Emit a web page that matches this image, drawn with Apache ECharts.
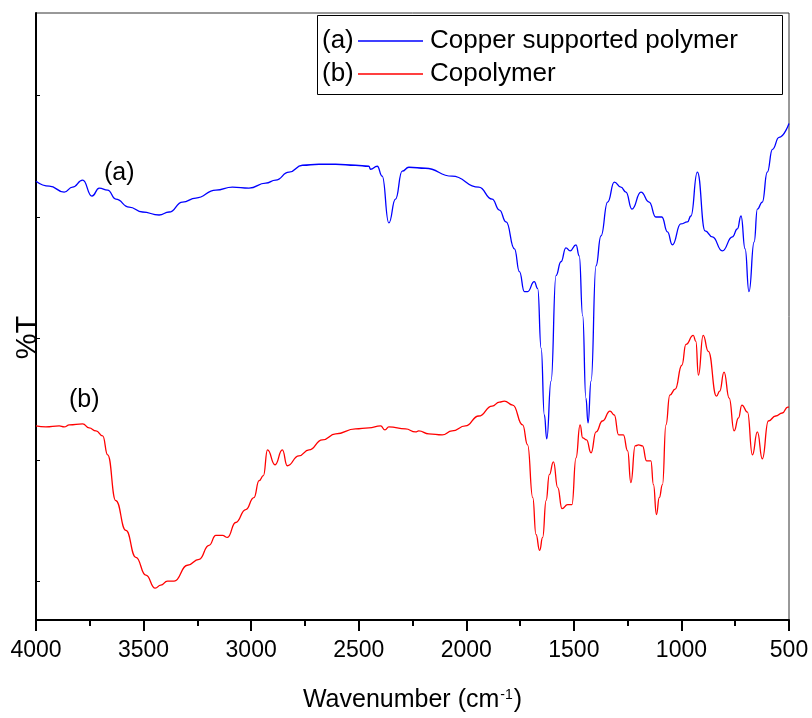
<!DOCTYPE html>
<html>
<head>
<meta charset="utf-8">
<script src="https://cdn.jsdelivr.net/npm/echarts@6/dist/echarts.min.js"></script>
<style>
  html, body { margin: 0; padding: 0; background: #fff; }
  #chart { width: 812px; height: 718px; }
</style>
</head>
<body>
<div id="chart"></div>
<script>
// ---- data ----
const seriesNames = ['Copper supported polymer', 'Copolymer'];
const seriesTags = ['(a)', '(b)'];
const xTickValues = [4000, 3500, 3000, 2500, 2000, 1500, 1000, 500];
const yTickValues = [39, 161, 283, 405, 527];

// (a) Copper supported polymer: wavenumber (cm-1) and %T (arbitrary units)
const aWavenumber = [4000,3938,3869,3830,3783,3740,3706,3667,3629,3567,3505,3428,3381,3319,3257,3164,3087,3010,2932,2886,2824,2762,2685,2607,2515,2453,2445,2414,2391,2360,2329,2298,2267,2190,2066,1942,1880,1846,1815,1776,1753,1730,1715,1684,1668,1652,1637,1626,1606,1583,1560,1537,1517,1490,1475,1459,1444,1434,1420,1397,1374,1343,1312,1281,1258,1230,1188,1150,1119,1091,1065,1042,1003,972,956,926,890,856,810,763,740,723,704,686,662,647,624,601,577,546,500];
const aT = [441,436,430,435,442,426,434,432,423,415,410,407,410,420,424,432,435,434,439,442,450,457,458,458,457,456,453,456,446,399,423,451,455,454,446,435,423,412,400,373,350,330,330,340,333,273,206,182,240,346,360,374,371,377,366,306,223,198,240,356,386,420,440,435,430,413,430,420,405,405,390,377,398,400,406,450,391,385,371,385,393,406,373,330,380,413,420,450,473,485,499];

// (b) Copolymer
const bWavenumber = [4000,3954,3892,3869,3845,3783,3753,3721,3690,3667,3629,3582,3536,3489,3446,3420,3389,3358,3296,3242,3196,3164,3133,3110,3072,3025,2987,2963,2943,2924,2889,2855,2832,2778,2731,2669,2607,2515,2453,2398,2378,2360,2282,2236,2221,2174,2112,2066,2004,1942,1880,1846,1823,1784,1738,1715,1691,1676,1659,1645,1629,1614,1595,1575,1555,1529,1509,1490,1471,1459,1441,1420,1397,1367,1332,1312,1292,1270,1250,1235,1215,1199,1181,1162,1142,1130,1116,1103,1088,1072,1054,1029,998,979,945,933,921,899,875,837,822,802,778,755,735,719,693,670,647,624,596,562,531,506,500];
const bT = [195,194,195,194,196,197,193,190,185,166,120,90,63,45,32,35,39,39,55,61,75,85,85,83,98,111,123,140,145,171,156,171,155,165,171,181,187,192,193,195,191,194,192,189,190,187,186,190,195,205,215,219,220,216,196,176,123,86,70,83,120,146,159,133,112,116,116,163,196,183,181,168,189,200,210,206,186,186,170,138,175,176,175,160,160,136,106,123,136,196,226,232,256,277,286,280,246,286,270,225,230,249,223,190,203,216,209,166,189,162,200,205,208,214,214];

const colors = ['#0000ff', '#ff0000'];
const FONT = '"Liberation Sans", Arial, Helvetica, sans-serif';

function pairs(xs, ys) { return xs.map((x, i) => [x, ys[i]]); }

const chart = echarts.init(document.getElementById('chart'), null, { renderer: 'canvas' });

const option = {
  backgroundColor: '#ffffff',
  animation: false,
  grid: {
    left: 36, right: 23, top: 13, bottom: 95,
    show: true, borderColor: '#333', borderWidth: 1, backgroundColor: 'transparent'
  },
  xAxis: {
    type: 'value',
    inverse: true,
    min: 500, max: 4000, interval: 500,
    name: 'Wavenumber (cm{sup|-1})',
    nameLocation: 'middle',
    nameGap: 68,
    nameTextStyle: {
      fontFamily: FONT, fontSize: 25, color: '#000',
      rich: { sup: { fontFamily: FONT, fontSize: 14, color: '#000', verticalAlign: 'top', lineHeight: 14, padding: [0, 1, 0, 1] } }
    },
    axisLine: { show: true, lineStyle: { color: '#000', width: 2 } },
    axisTick: { show: true, inside: false, length: 11, lineStyle: { color: '#000', width: 2 } },
    minorTick: { show: true, splitNumber: 2, length: 6, lineStyle: { color: '#000', width: 2 } },
    axisLabel: {
      fontFamily: FONT, fontSize: 23, color: '#000', margin: 19,
      showMinLabel: true, showMaxLabel: true,
      formatter: function (v) { return String(v); }
    },
    splitLine: { show: false }
  },
  yAxis: {
    type: 'value',
    min: 0, max: 610,
    name: '%T',
    nameLocation: 'middle',
    nameRotate: 90,
    nameGap: -6,
    nameTextStyle: { fontFamily: FONT, fontSize: 29, color: '#000', padding: [0, 42, 0, 0] },
    axisLine: { show: true, lineStyle: { color: '#000', width: 2 } },
    axisTick: { show: true, inside: true, length: 4, lineStyle: { color: '#000', width: 1 }, customValues: yTickValues },
    axisLabel: { show: false },
    splitLine: { show: false }
  },
  legend: {
    orient: 'vertical',
    left: 358,
    top: 27,
    padding: 0,
    itemGap: 5,
    itemWidth: 65,
    itemHeight: 1.3,
    icon: 'rect',
    data: seriesNames,
    textStyle: { fontFamily: FONT, fontSize: 26, color: '#000', lineHeight: 28, padding: [0, 0, 0, 2] },
    selectedMode: false
  },
  graphic: [
    { type: 'rect', left: 317, top: 15, shape: { width: 465, height: 79 }, style: { fill: 'transparent', stroke: '#000', lineWidth: 1 }, z: 10 },
    { type: 'text', left: 322, top: 28, style: { text: seriesTags[0], font: '26px ' + FONT, fill: '#000' }, z: 10 },
    { type: 'text', left: 322, top: 61, style: { text: seriesTags[1], font: '26px ' + FONT, fill: '#000' }, z: 10 },
    { type: 'text', left: 104, top: 161, style: { text: seriesTags[0], font: '25px ' + FONT, fill: '#000' }, z: 10 },
    { type: 'text', left: 69, top: 388, style: { text: seriesTags[1], font: '25px ' + FONT, fill: '#000' }, z: 10 }
  ],
  series: [
    {
      name: seriesNames[0], type: 'line',
      data: pairs(aWavenumber, aT),
      symbol: 'none', smooth: 0.5, smoothMonotone: 'x',
      lineStyle: { color: colors[0], width: 1.3 }, itemStyle: { color: colors[0] }
    },
    {
      name: seriesNames[1], type: 'line',
      data: pairs(bWavenumber, bT),
      symbol: 'none', smooth: 0.5, smoothMonotone: 'x',
      lineStyle: { color: colors[1], width: 1.3 }, itemStyle: { color: colors[1] }
    }
  ]
};
chart.setOption(option);
</script>
</body>
</html>
